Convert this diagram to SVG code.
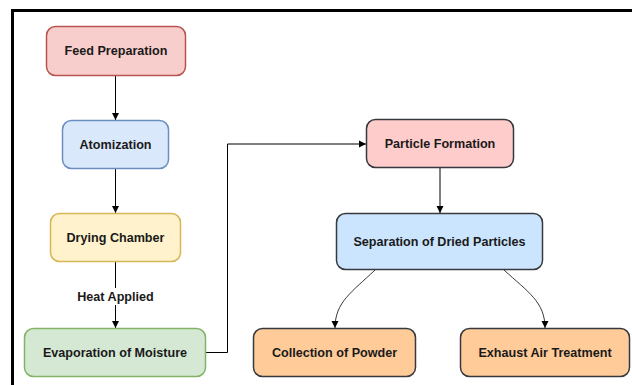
<svg xmlns="http://www.w3.org/2000/svg" width="632" height="385" viewBox="0 0 632 385">
<defs>
<style>
.n{stroke-width:1.5}
.t{font-family:"Liberation Sans",Arial,sans-serif;font-weight:bold;font-size:12.6px;fill:#1a1a1a;text-anchor:middle;dominant-baseline:central}
.e{fill:none;stroke:#000;stroke-width:1}
.ed{fill:none;stroke:#36393d;stroke-width:1}
</style>
<marker id="ah" markerUnits="userSpaceOnUse" markerWidth="8" markerHeight="8" refX="7" refY="4" orient="auto">
<path d="M0,0.5 L7,4 L0,7.5 z" fill="#000"/>
</marker>
</defs>
<rect width="632" height="385" fill="#fff"/>
<path d="M12.5,385 V10.5 H632" fill="none" stroke="#000" stroke-width="3"/>
<g id="connectors">
<path class="e" d="M115.5,76 V120" marker-end="url(#ah)"/>
<path class="e" d="M115.5,169 V213" marker-end="url(#ah)"/>
<path class="e" d="M115.5,262 V328" marker-end="url(#ah)"/>
<rect x="74" y="288" width="83" height="17" fill="#fff"/>
<text class="t" x="115.5" y="297">Heat Applied</text>
<path class="e" d="M206,352.5 H227.5 V144 H366" marker-end="url(#ah)"/>
<path class="e" d="M440,168 V213" marker-end="url(#ah)"/>
<path class="ed" d="M375,270 C352,292 335,302 335,328" marker-end="url(#ah)"/>
<path class="ed" d="M504,270 C528,292 545,302 545,328" marker-end="url(#ah)"/>
</g>
<g id="feed-preparation">
<rect class="n" x="46.5" y="26.5" width="139" height="49" rx="9" fill="#f8cecc" stroke="#b85450"/>
<text class="t" x="116" y="51">Feed Preparation</text>
</g>
<g id="atomization">
<rect class="n" x="62.5" y="120.5" width="106" height="48" rx="9" fill="#dae8fc" stroke="#6c8ebf"/>
<text class="t" x="115.5" y="144.5">Atomization</text>
</g>
<g id="drying-chamber">
<rect class="n" x="50.5" y="213.5" width="130" height="48" rx="9" fill="#fff2cc" stroke="#d6b656"/>
<text class="t" x="115.5" y="237.5">Drying Chamber</text>
</g>
<g id="evaporation">
<rect class="n" x="24.5" y="328.5" width="181" height="48" rx="9" fill="#d5e8d4" stroke="#82b366"/>
<text class="t" x="115" y="352.5">Evaporation of Moisture</text>
</g>
<g id="particle-formation">
<rect class="n" x="366.5" y="119.5" width="147" height="48" rx="9" fill="#ffcccc" stroke="#36393d"/>
<text class="t" x="440" y="143.5">Particle Formation</text>
</g>
<g id="separation">
<rect class="n" x="336.5" y="213.5" width="206" height="56" rx="9" fill="#cce5ff" stroke="#36393d"/>
<text class="t" x="439.5" y="241.5">Separation of Dried Particles</text>
</g>
<g id="collection">
<rect class="n" x="253.5" y="328.5" width="162" height="48" rx="9" fill="#ffcc99" stroke="#36393d"/>
<text class="t" x="334.5" y="352.5">Collection of Powder</text>
</g>
<g id="exhaust">
<rect class="n" x="460.5" y="328.5" width="169" height="48" rx="9" fill="#ffcc99" stroke="#36393d"/>
<text class="t" x="545" y="352.5">Exhaust Air Treatment</text>
</g>
</svg>
